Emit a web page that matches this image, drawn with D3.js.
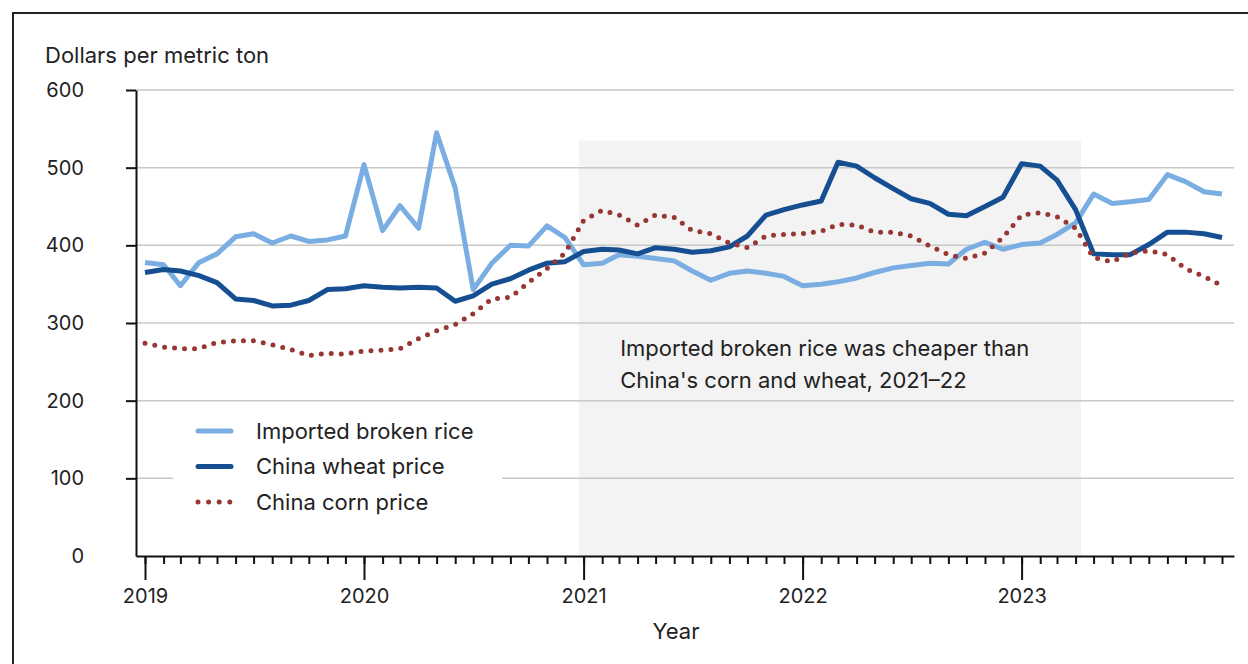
<!DOCTYPE html>
<html lang="en">
<head>
<meta charset="UTF-8">
<title>Imported broken rice vs China corn and wheat prices</title>
<script src="https://cdn.jsdelivr.net/npm/d3@7"></script>
<style>
  body{ margin:0; background:#fff; font-family: Inter, sans-serif; }
  svg{ display:block; }
  .grid line{ stroke:#c8c8c8; stroke-width:1.5; }
  .axis path, .axis line{ stroke:#111; stroke-width:2; }
  .axis text{ font-family: Inter, sans-serif; font-size:20px; fill:#222; }
  .rice{ stroke:#7aaee2; stroke-width:5; fill:none; stroke-linejoin:round; }
  .wheat{ stroke:#154f92; stroke-width:5; fill:none; stroke-linejoin:round; }
  .corn{ stroke:#963733; stroke-width:5; fill:none; stroke-dasharray:0 10; stroke-linecap:round; }
  .label{ font-size:22px; fill:#222; }
</style>
</head>
<body>
<script>
// data, monthly Jan 2019 - Dec 2023, dollars per metric ton
const years = [2019, 2020, 2021, 2022, 2023];
const yTicks = [0, 100, 200, 300, 400, 500, 600];

const rice = [
  378, 375, 348, 378, 389, 411, 415, 403, 412, 405, 407, 412,
  504, 419, 451, 422, 545, 474, 343, 377, 400, 399, 425, 410,
  375, 377, 388, 386, 383, 380, 367, 355, 364, 367, 364, 360,
  348, 350, 353, 358, 365, 371, 374, 377, 376, 395, 404, 395,
  401, 403, 414, 429, 466, 454, 456, 459, 491, 482, 469, 466
];
const wheat = [
  365, 369, 367, 361, 352, 331, 329, 322, 323, 329, 343, 344,
  348, 346, 345, 346, 345, 328, 335, 350, 357, 368, 377, 379,
  392, 395, 394, 389, 397, 395, 391, 393, 398, 412, 439, 446,
  452, 457, 507, 502, 487, 473, 460, 454, 440, 438, 450, 462,
  505, 502, 484, 446, 389, 388, 388, 401, 417, 417, 415, 410
];
const corn = [
  274, 269, 267, 267, 275, 277, 277, 272, 266, 258, 261, 260,
  264, 265, 267, 280, 290, 298, 312, 331, 333, 352, 370, 390,
  432, 445, 439, 426, 439, 436, 419, 415, 403, 397, 412, 414,
  415, 418, 427, 426, 417, 417, 412, 399, 388, 383, 390, 410,
  439, 442, 437, 422, 384, 379, 390, 393, 388, 370, 360, 348
];

const shadeDates = [new Date(2020, 11, 24), new Date(2023, 3, 10)];
const shadeTop = 535;

const seriesNames = ["Imported broken rice", "China wheat price", "China corn price"];
const seriesClass = ["rice", "wheat", "corn"];

const months = years.flatMap(yr => d3.range(12).map(m => new Date(yr, m, 1)));

const width = 1248, height = 664;
const svg = d3.select("body").append("svg")
  .attr("width", width)
  .attr("height", height);

const x = d3.scaleTime()
  .domain([new Date(2018, 11, 17), new Date(2023, 11, 21)])
  .range([136, 1234]);
const y = d3.scaleLinear()
  .domain([0, 600])
  .range([556, 90]);

// outer frame (only top and left show)
svg.append("rect")
  .attr("x", 13).attr("y", 13)
  .attr("width", 1400).attr("height", 800)
  .attr("fill", "none").attr("stroke", "#222").attr("stroke-width", 2);

// shaded period
svg.append("rect")
  .attr("x", x(shadeDates[0]))
  .attr("y", y(shadeTop))
  .attr("width", x(shadeDates[1]) - x(shadeDates[0]))
  .attr("height", y(0) - y(shadeTop))
  .attr("fill", "#f3f3f3");

// gridlines
svg.append("g").attr("class", "grid")
  .selectAll("line")
  .data(yTicks.filter(d => d > 0))
  .join("line")
  .attr("x1", 136).attr("x2", 1234)
  .attr("y1", d => y(d)).attr("y2", d => y(d));

// legend box hides the gridline behind it
svg.append("rect")
  .attr("x", 173).attr("y", 404)
  .attr("width", 329).attr("height", 116)
  .attr("fill", "#fff");

// lines
const series = [rice, wheat, corn];
const line = d3.line()
  .x((d, i) => x(months[i]))
  .y(d => y(d));

svg.append("g")
  .selectAll("path")
  .data(series)
  .join("path")
  .attr("class", (d, i) => seriesClass[i])
  .attr("d", line);

// axes
const yAxis = d3.axisLeft(y)
  .tickValues(yTicks)
  .tickSize(10)
  .tickPadding(42)
  .tickSizeOuter(0);
const gy = svg.append("g").attr("class", "axis")
  .attr("transform", "translate(136,0)")
  .call(yAxis);
gy.selectAll(".tick").filter(d => d === 0).select("line").remove();

const xMinor = d3.axisBottom(x)
  .ticks(d3.timeMonth.every(1))
  .tickSize(8)
  .tickSizeOuter(0)
  .tickFormat("");
svg.append("g").attr("class", "axis")
  .attr("transform", "translate(0,556)")
  .call(xMinor);

const xMajor = d3.axisBottom(x)
  .ticks(d3.timeYear.every(1))
  .tickSize(24)
  .tickPadding(9)
  .tickFormat(d3.timeFormat("%Y"));
const gx = svg.append("g").attr("class", "axis")
  .attr("transform", "translate(0,556)")
  .call(xMajor);
gx.select(".domain").remove();

// axis titles
svg.append("text").attr("class", "label")
  .attr("x", 45).attr("y", 63)
  .text("Dollars per metric ton");
svg.append("text").attr("class", "label")
  .attr("x", 676).attr("y", 639)
  .attr("text-anchor", "middle")
  .text("Year");

// annotation
const noteX = x(new Date(2021, 2, 3));
const note = svg.append("text").attr("class", "label")
  .attr("x", noteX)
  .attr("y", 356);
note.append("tspan").attr("x", noteX).text("Imported broken rice was cheaper than");
note.append("tspan").attr("x", noteX).attr("dy", 32).text("China's corn and wheat, 2021\u201322");

// legend
const legend = svg.append("g")
  .selectAll("g")
  .data(seriesNames)
  .join("g")
  .attr("transform", (d, i) => `translate(198,${431 + i * 35.5})`);
legend.append("line")
  .attr("class", (d, i) => seriesClass[i])
  .attr("x1", 0).attr("x2", 33)
  .attr("y1", 0).attr("y2", 0)
  .style("stroke-linecap", "round")
  .style("stroke-dasharray", (d, i) => i === 2 ? "0 10.6" : null);
legend.append("text").attr("class", "label")
  .attr("x", 58).attr("dy", "0.35em")
  .text(d => d);
</script>
</body>
</html>
